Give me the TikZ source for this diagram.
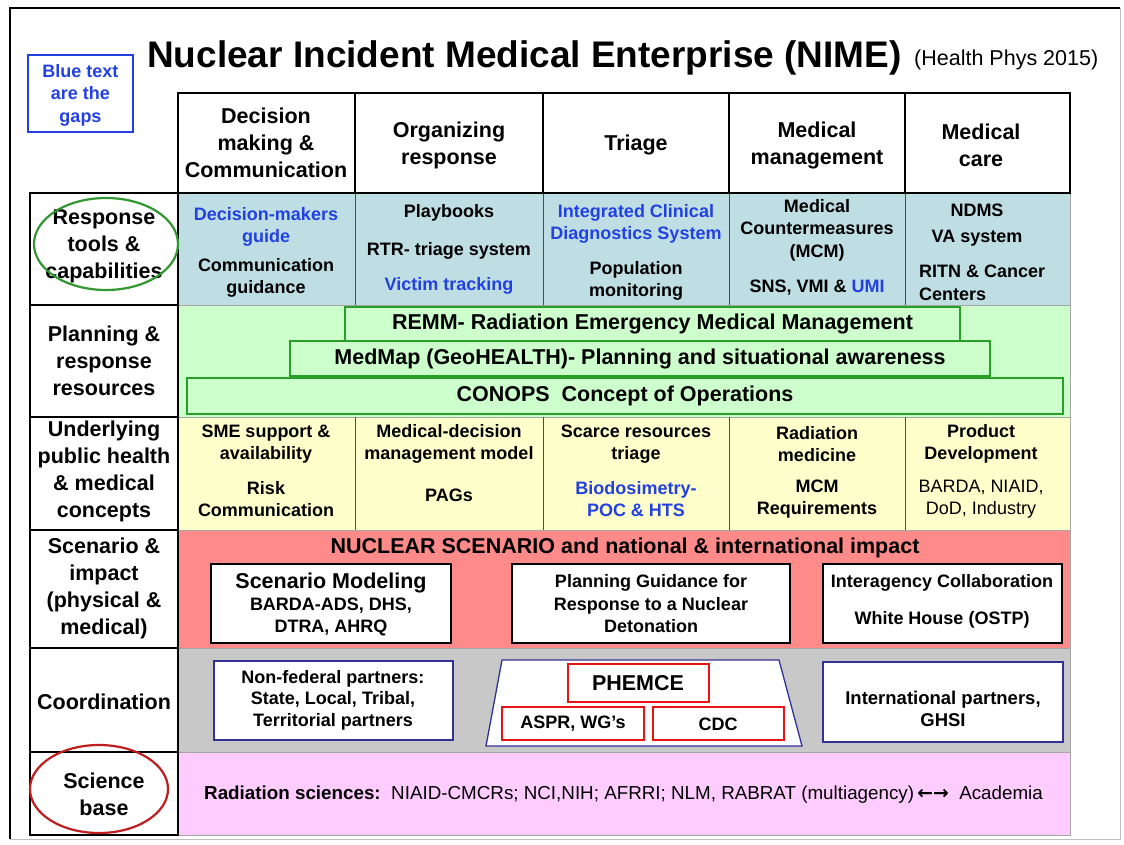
\documentclass[tikz,border=0pt]{standalone}
\usepackage{fontspec}
\setmainfont{Liberation Sans}
\newfontfamily\arrowfont{DejaVu Sans}
\usepackage{tikz}

\definecolor{gapblue}{RGB}{35,65,225}
\definecolor{toolrow}{RGB}{190,222,228}
\definecolor{planrow}{RGB}{204,255,204}
\definecolor{barline}{RGB}{40,160,40}
\definecolor{conceptrow}{RGB}{255,255,204}
\definecolor{scenrow}{RGB}{255,138,138}
\definecolor{coordrow}{RGB}{200,200,200}
\definecolor{sciencerow}{RGB}{255,204,255}
\definecolor{navyline}{RGB}{50,50,150}
\definecolor{phemred}{RGB}{230,20,20}
\definecolor{ringgreen}{RGB}{50,150,50}
\definecolor{ringred}{RGB}{190,30,30}

\newcommand{\nimebig}{\bfseries\fontsize{21.5}{27}\selectfont}
\newcommand{\nimecell}{\bfseries\fontsize{18}{22.5}\selectfont}
\newcommand{\nimeplain}{\fontsize{18}{22.5}\selectfont}

\tikzset{
  lab/.style={align=center, inner sep=0pt, font=\nimebig},
  txt/.style={align=center, inner sep=0pt, font=\nimecell},
  gap/.style={txt, text=gapblue},
  bar/.style={draw=barline, fill=planrow, line width=1.5pt, inner sep=0pt, font=\nimebig},
  wbox/.style={draw=black, fill=white, line width=1.8pt},
  nbox/.style={draw=navyline, fill=white, line width=1.3pt},
  rbox/.style={draw=phemred, fill=white, line width=2.5pt},
}

\begin{document}
\begin{tikzpicture}[x=1pt,y=-1pt]
      \useasboundingbox (0,0) rectangle (1124,844);
      \fill[white] (0,0) rectangle (1124,844);
      \draw[gray!50, line width=1pt] (1120,8) -- (1120,839) -- (10,839);
      \draw[line width=2.5pt] (10,839) -- (10,8) -- (1120,8);

      \node[inner sep=0pt, anchor=base west, font=\bfseries\fontsize{37}{44}\selectfont] (title) at (147,67) {Nuclear Incident Medical Enterprise (NIME)};
      \node[inner sep=0pt, anchor=base west, font=\fontsize{21.5}{24}\selectfont] (src) at (914,65) {(Health Phys 2015)};

      \draw[gapblue, line width=2.5pt] (28,55) rectangle (133,132);
      \node[gap] (gaps) at (80.5,95) {Blue text\\are the\\gaps};

      \fill[toolrow] (178,193) rectangle (1070,305);
      \fill[planrow] (178,305) rectangle (1070,417);
      \fill[conceptrow] (178,417) rectangle (1070,530);
      \fill[scenrow] (178,530) rectangle (1070,648);
      \fill[coordrow] (178,648) rectangle (1070,752);
      \fill[sciencerow] (178,752) rectangle (1070,835);
      \draw[gray!70, line width=0.8pt] (178,193) rectangle (1070,835);
      \foreach \y in {305,417,530,648,752}
        \draw[gray!70, line width=0.8pt] (178,\y) -- (1070,\y);
      \foreach \x in {355,543,729,905} {
        \draw[black!70, line width=1pt] (\x,193) -- (\x,305);
        \draw[black!70, line width=1pt] (\x,417) -- (\x,530);
      }

      \node[bar, minimum width=615pt, minimum height=34pt] (remm) at (652.5,324) {REMM- Radiation Emergency Medical Management};
      \node[bar, minimum width=700pt, minimum height=35pt] (medmap) at (640,358.5) {MedMap (GeoHEALTH)- Planning and situational awareness};
      \node[bar, minimum width=876pt, minimum height=36pt] (conops) at (625,396) {CONOPS\ \ Concept of Operations};

      \draw[wbox] (211,564) rectangle (451,643);
      \draw[wbox] (512,564) rectangle (790,643);
      \draw[wbox] (823,564) rectangle (1062,643);
      \draw[nbox] (214,661) rectangle (453,740);
      \draw[nbox] (486,746) -- (502,660) -- (779,660) -- (802,746) -- cycle;
      \draw[rbox] (568,664) rectangle (709,702);
      \draw[rbox] (502,707) rectangle (644,740);
      \draw[rbox] (653,707) rectangle (784,740);
      \draw[nbox] (823,662) rectangle (1063,742);

      \draw[line width=2.2pt] (178,93) rectangle (1070,193);
      \foreach \x in {355,543,729,905}
        \draw[line width=2.2pt] (\x,93) -- (\x,193);
      \draw[line width=2.2pt] (30,193) rectangle (178,835);
      \foreach \y in {305,417,530,648,752}
        \draw[line width=2.2pt] (30,\y) -- (178,\y);

      \node[lab] (h1) at (266,143) {Decision\\making \&\\Communication};
      \node[lab] (h2) at (449,145) {Organizing\\response};
      \node[lab] (h3) at (636,145) {Triage};
      \node[lab] (h4) at (817,145) {Medical\\management};
      \node[lab] (h5) at (981,145) {Medical\\care};

      \node[lab] (l1) at (104,246) {Response\\tools \&\\capabilities};
      \node[lab] (l2) at (104,361) {Planning \&\\response\\resources};
      \node[lab] (l3) at (104,471) {Underlying\\public health\\\& medical\\concepts};
      \node[lab] (l4) at (104,588) {Scenario \&\\impact\\(physical \&\\medical)};
      \node[lab] (l5) at (104,702) {Coordination};
      \node[lab] (l6) at (104,794) {Science\\base};

      \node[gap] (r1a) at (266,227) {Decision-makers\\guide};
      \node[txt] (r1b) at (266,278) {Communication\\guidance};
      \node[txt] (r1c) at (449,213) {Playbooks};
      \node[txt] (r1d) at (449,251) {RTR- triage system};
      \node[gap] (r1e) at (449,286) {Victim tracking};
      \node[gap] (r1f) at (636,224) {Integrated Clinical\\Diagnostics System};
      \node[txt] (r1g) at (636,281) {Population\\monitoring};
      \node[txt] (r1h) at (817,230) {Medical\\Countermeasures\\(MCM)};
      \node[txt] (r1i) at (817,288) {SNS, VMI \& {\color{gapblue}UMI}};
      \node[txt] (r1j) at (977,210) {NDMS};
      \node[txt] (r1k) at (977,238) {VA system};
      \node[txt, align=left, anchor=west] (r1l) at (919,283) {RITN \& Cancer\\Centers};

      \node[txt] (r3a) at (266,444) {SME support \&\\availability};
      \node[txt] (r3b) at (266,499) {Risk\\Communication};
      \node[txt] (r3c) at (449,444) {Medical-decision\\management model};
      \node[txt] (r3d) at (449,495) {PAGs};
      \node[txt] (r3e) at (636,444) {Scarce resources\\triage};
      \node[gap] (r3f) at (636,499) {Biodosimetry-\\POC \& HTS};
      \node[txt] (r3g) at (817,444) {Radiation\\medicine};
      \node[txt] (r3h) at (817,499) {MCM\\Requirements};
      \node[txt] (r3i) at (981,444) {Product\\Development};
      \node[txt, font=\nimeplain] (r3j) at (981,499) {BARDA, NIAID,\\DoD, Industry};

      \node[lab] (nuc) at (625,548) {NUCLEAR SCENARIO and national \& international impact};
      \node[lab] (s1) at (331,583) {Scenario Modeling};
      \node[txt] (s2) at (331,617) {BARDA-ADS, DHS,\\DTRA, AHRQ};
      \node[txt] (s3) at (651,604) {Planning Guidance for\\Response to a Nuclear\\Detonation};
      \node[txt] (s4) at (942,583) {Interagency Collaboration};
      \node[txt] (s5) at (942,620) {White House (OSTP)};

      \node[txt, font=\bfseries\fontsize{18}{21.5}\selectfont] (c1) at (333,700) {Non-federal partners:\\State, Local, Tribal,\\Territorial partners};
      \node[lab] (c2) at (638,683) {PHEMCE};
      \node[txt] (c3) at (573,724) {ASPR, WG's};
      \node[txt] (c4) at (718,724) {CDC};
      \node[txt, font=\bfseries\fontsize{18.5}{22}\selectfont] (c5) at (943,709) {International partners,\\GHSI};

      \node[txt, font=\fontsize{18.8}{22.5}\selectfont, anchor=west] (sci) at (204,795) {\textbf{Radiation sciences:}\ \ NIAID-CMCRs; NCI,NIH; AFRRI; NLM, RABRAT (multiagency)\,{\arrowfont\bfseries ←→}\ \ Academia};

      \draw[ringgreen, line width=2.2pt] (106,244) ellipse (72 and 46);
      \draw[ringred, line width=2.2pt] (99,789) ellipse (69 and 44);
\end{tikzpicture}
\end{document}
